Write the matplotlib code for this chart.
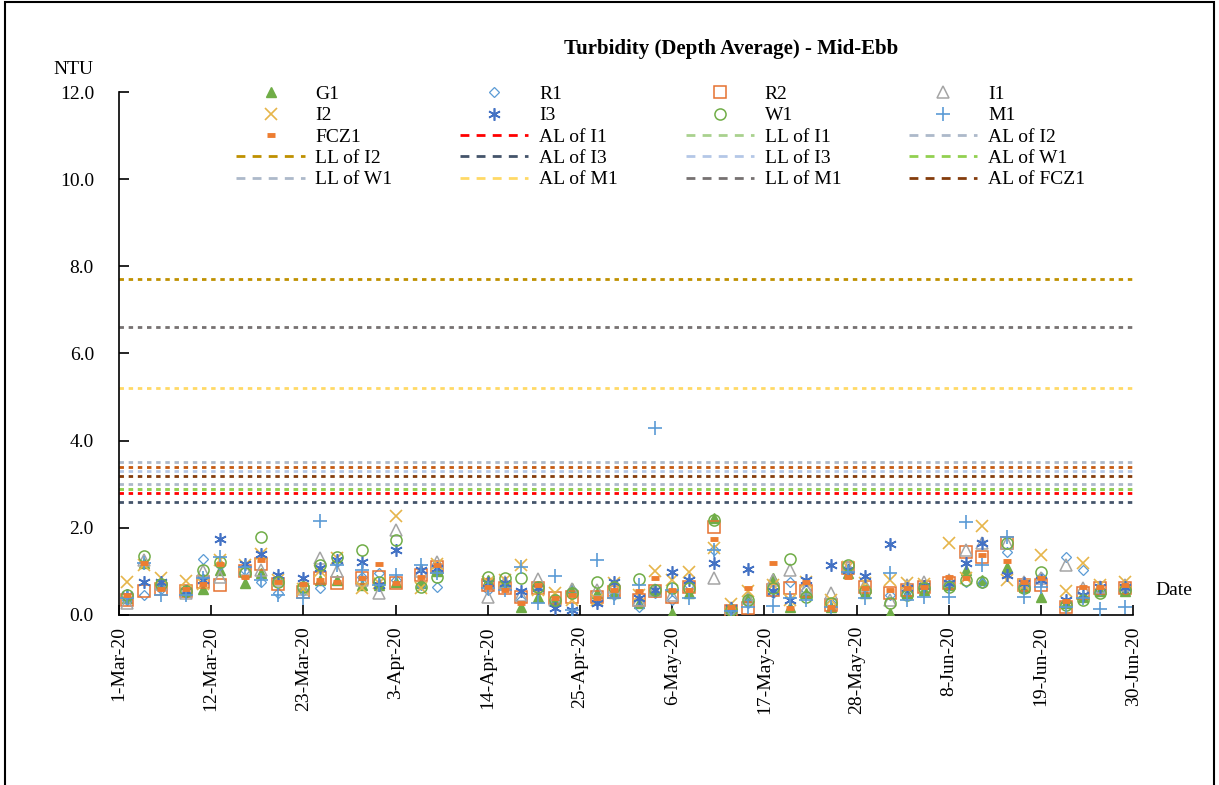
import datetime as dt
import matplotlib
matplotlib.use('Agg')
import matplotlib.pyplot as plt
from matplotlib.lines import Line2D
from matplotlib.patches import Rectangle

plt.rcParams['font.family'] = ['Liberation Serif', 'DejaVu Serif']

# sampling dates (depth-averaged turbidity, mid-ebb)
dates = ['2020-03-02', '2020-03-04', '2020-03-06', '2020-03-09', '2020-03-11', '2020-03-13',
         '2020-03-16', '2020-03-18', '2020-03-20', '2020-03-23', '2020-03-25', '2020-03-27',
         '2020-03-30',
         '2020-04-01', '2020-04-03', '2020-04-06', '2020-04-08', '2020-04-14', '2020-04-16',
         '2020-04-18', '2020-04-20', '2020-04-22', '2020-04-24', '2020-04-27', '2020-04-29',
         '2020-05-02', '2020-05-04', '2020-05-06', '2020-05-08', '2020-05-11', '2020-05-13',
         '2020-05-15', '2020-05-18', '2020-05-20', '2020-05-22', '2020-05-25', '2020-05-27',
         '2020-05-29',
         '2020-06-01', '2020-06-03', '2020-06-05', '2020-06-08', '2020-06-10', '2020-06-12',
         '2020-06-15', '2020-06-17', '2020-06-19', '2020-06-22', '2020-06-24', '2020-06-26',
         '2020-06-29']

# values in NTU, one per date (13 Mar / 12 Apr / 13 May / 13 Jun)
g1 = [0.40, 1.20, 0.70, 0.55, 0.59, 1.03, 0.73, 0.96, 0.85, 0.65, 0.80, 0.80, 0.69,
      0.69, 0.76, 0.73, 1.00, 0.80, 0.73, 0.19, 0.42, 0.34, 0.63, 0.50, 0.50,
      0.27, 0.54, 0.04, 0.50, 2.22, 0.15, 0.42, 0.84, 0.19, 0.50, 0.19, 0.96, 0.50,
      0.04, 0.50, 0.57, 0.69, 1.03, 0.80, 1.10, 0.65, 0.42, 0.27, 0.42, 0.54, 0.54]
r1 = [0.35, 0.45, 0.60, 0.50, 1.28, 1.15, 1.03, 0.76, 0.50, 0.55, 0.61, 1.22, 0.88,
      0.96, 0.80, 0.69, 0.65, 0.57, 0.69, 0.34, 0.57, 0.31, 0.57, 0.31, 0.46,
      0.19, 0.50, 0.34, 0.69, 1.49, 0.12, 0.27, 0.50, 0.76, 0.57, 0.27, 1.03, 0.65,
      0.46, 0.54, 0.69, 0.76, 0.76, 0.73, 1.45, 0.73, 0.88, 1.34, 1.03, 0.57, 0.61]
r2 = [0.35, 0.55, 0.60, 0.55, 0.76, 0.69, 1.00, 1.18, 0.70, 0.53, 0.84, 0.73, 0.84,
      0.88, 0.73, 0.92, 1.10, 0.69, 0.61, 0.42, 0.61, 0.38, 0.42, 0.42, 0.53,
      0.34, 0.54, 0.42, 0.65, 2.03, 0.10, 0.15, 0.57, 0.63, 0.54, 0.23, 1.07, 0.65,
      0.50, 0.57, 0.65, 0.73, 1.45, 1.34, 1.66, 0.69, 0.69, 0.19, 0.50, 0.61, 0.61]
i1 = [0.28, 1.25, 0.70, 0.50, 1.00, 0.86, 1.05, 1.03, 0.80, 0.60, 1.30, 1.00, 0.80,
      0.50, 1.95, 1.00, 1.22, 0.42, 0.76, 0.46, 0.82, 0.34, 0.60, 0.57, 0.65,
      0.34, 0.57, 0.46, 0.73, 0.84, 0.15, 0.38, 0.80, 1.03, 0.61, 0.50, 1.10, 0.69,
      0.34, 0.69, 0.76, 0.80, 1.49, 1.64, 1.64, 0.76, 0.84, 1.15, 0.63, 0.65, 0.69]
i2 = [0.76, 1.15, 0.84, 0.79, 0.70, 1.26, 1.15, 1.41, 0.80, 0.60, 1.00, 1.30, 0.61,
      0.73, 2.27, 0.61, 1.18, 0.76, 0.80, 1.15, 0.57, 0.50, 0.34, 0.34, 0.73,
      0.46, 1.02, 0.80, 0.99, 1.53, 0.25, 0.54, 0.69, 0.34, 0.76, 0.34, 1.10, 0.73,
      0.80, 0.73, 0.72, 1.66, 0.85, 2.04, 0.80, 0.69, 1.38, 0.54, 1.19, 0.69, 0.76]
i3 = [0.45, 0.76, 0.75, 0.55, 0.80, 1.74, 1.17, 1.41, 0.92, 0.84, 1.07, 1.26, 1.22,
      0.69, 1.48, 1.03, 1.07, 0.73, 0.73, 0.54, 0.61, 0.15, 0.11, 0.27, 0.76,
      0.38, 0.57, 0.99, 0.80, 1.19, 0.15, 1.05, 0.54, 0.34, 0.80, 1.15, 1.03, 0.90,
      1.63, 0.61, 0.67, 0.73, 1.19, 1.66, 0.92, 0.73, 0.80, 0.34, 0.46, 0.65, 0.65]
w1 = [0.45, 1.35, 0.70, 0.55, 1.03, 1.22, 0.96, 1.80, 0.75, 0.65, 1.15, 1.34, 1.48,
      0.76, 1.72, 0.65, 0.88, 0.86, 0.84, 0.84, 0.65, 0.34, 0.50, 0.76, 0.65,
      0.83, 0.57, 0.61, 0.61, 2.18, 0.12, 0.34, 0.61, 1.28, 0.42, 0.27, 1.15, 0.54,
      0.27, 0.46, 0.61, 0.65, 0.80, 0.76, 1.64, 0.61, 0.99, 0.23, 0.34, 0.50, 0.57]
m1 = [0.38, 1.20, 0.46, 0.45, 0.84, 1.34, 1.10, 0.80, 0.46, 0.38, 2.16, 1.15, 1.03,
      0.69, 0.92, 1.15, 0.96, 0.61, 0.57, 1.11, 0.27, 0.90, 0.11, 1.25, 0.38,
      0.69, 4.30, 0.57, 0.38, 1.49, 0.10, 0.19, 0.21, 0.38, 0.34, 0.19, 0.99, 0.38,
      0.96, 0.34, 0.42, 0.42, 2.13, 1.15, 1.80, 0.42, 0.65, 0.19, 0.38, 0.13, 0.19]
fcz1 = [0.45, 1.20, 0.60, 0.60, 0.70, 1.18, 0.88, 1.26, 0.75, 0.70, 0.80, 0.76, 0.84,
        1.17, 0.73, 0.88, 1.15, 0.65, 0.57, 0.27, 0.69, 0.38, 0.46, 0.38, 0.57,
        0.54, 0.84, 0.57, 0.57, 1.74, 0.18, 0.61, 1.20, 0.15, 0.76, 0.19, 0.88, 0.61,
        0.57, 0.63, 0.65, 0.88, 0.84, 1.38, 1.24, 0.76, 0.84, 0.31, 0.65, 0.65, 0.69]

# action / limit levels
level_names = ['AL of I1', 'LL of I1', 'AL of I2', 'LL of I2', 'AL of I3', 'LL of I3',
               'AL of W1', 'LL of W1', 'AL of M1', 'LL of M1', 'AL of FCZ1', 'LL of FCZ1']
level_values = [2.8, 2.9, 3.0, 7.7, 2.6, 3.3, 2.9, 3.5, 5.2, 6.6, 3.2, 3.4]
level_colors = ['#ff0000', '#a9d18e', '#adb9ca', '#bf9000', '#44546a', '#b4c7e7',
                '#92d050', '#adb9ca', '#ffd966', '#767171', '#843c0c', '#c55a11']

series = [
    ('G1', g1, dict(marker='^', color='#70ad47', mfc='#70ad47', ms=7)),
    ('R1', r1, dict(marker='D', color='#5b9bd5', mfc='none', ms=5, mew=0.9)),
    ('R2', r2, dict(marker='s', color='#e57230', mfc='none', ms=8, mew=1.1)),
    ('I1', i1, dict(marker='^', color='#a5a5a5', mfc='none', ms=8, mew=1.1)),
    ('I2', i2, dict(marker='x', color='#e6b54a', ms=8, mew=1.2)),
    ('I3', i3, dict(marker=(6, 2, 0), color='#4472c4', ms=9, mew=1.2)),
    ('W1', w1, dict(marker='o', color='#70ad47', mfc='none', ms=8, mew=1.1)),
    ('M1', m1, dict(marker='+', color='#5b9bd5', ms=10, mew=1.2)),
    ('FCZ1', fcz1, dict(marker='_', color='#ed7d31', ms=6, mew=3.5)),
]

x = [dt.datetime.strptime(d, '%Y-%m-%d') for d in dates]

fig = plt.figure(figsize=(12.19, 7.85), dpi=100)
ax = fig.add_axes([0.0976, 0.2166, 0.8320, 0.6662])

for name, val, col in zip(level_names, level_values, level_colors):
    ax.axhline(val, color=col, lw=2.0, dashes=(1.6, 1.7), zorder=1)

for name, vals, st in series:
    ax.plot(x, vals, linestyle='none', zorder=3, **st)

ax.set_xlim(dt.datetime(2020, 3, 1), dt.datetime(2020, 6, 30))
ax.set_ylim(0, 12)
ax.set_yticks(range(0, 13, 2))
ax.set_yticklabels(['%.1f' % v for v in range(0, 13, 2)])
xt = [dt.datetime(2020, 3, 1) + dt.timedelta(days=11 * k) for k in range(12)]
ax.set_xticks(xt)
ax.set_xticklabels(['%d-%s' % (d.day, d.strftime('%b-%y')) for d in xt], rotation=90)
for s in ['top', 'right']:
    ax.spines[s].set_visible(False)
for s in ['left', 'bottom']:
    ax.spines[s].set_linewidth(1.2)
ax.tick_params(axis='both', direction='in', length=7, width=1.2, labelsize=14)
ax.tick_params(axis='y', pad=18)
ax.tick_params(axis='x', pad=8)

fig.text(0.6, 0.938, 'Turbidity (Depth Average) - Mid-Ebb', ha='center', va='center',
         fontsize=15, fontweight='bold')
fig.text(0.060, 0.911, 'NTU', ha='center', va='center', fontsize=14)
fig.text(0.963, 0.248, 'Date', ha='center', va='center', fontsize=14)

# legend, row-wise like the source, reordered for column-major filling
row_handles = []
row_labels = []
for name, vals, st in series:
    row_handles.append(Line2D([], [], linestyle='none', **st))
    row_labels.append(name)
for name, col in zip(level_names[:11], level_colors[:11]):
    row_handles.append(Line2D([], [], color=col, lw=2.0, dashes=(3.2, 2.6)))
    row_labels.append(name)
ncol, nrow = 4, 5
handles = [row_handles[r * ncol + c] for c in range(ncol) for r in range(nrow)]
labels = [row_labels[r * ncol + c] for c in range(ncol) for r in range(nrow)]
fig.legend(handles, labels, ncol=ncol, loc='upper left', bbox_to_anchor=(0.194, 0.891),
           frameon=False, fontsize=14, handlelength=3.5, handletextpad=0.55,
           columnspacing=3.5, labelspacing=0.19, borderpad=0, borderaxespad=0)

fig.patches.append(Rectangle((0.004, -0.05), 0.992, 1.048, transform=fig.transFigure,
                             fill=False, edgecolor='black', lw=1.5, clip_on=False))

fig.savefig('out.png', dpi=100)
